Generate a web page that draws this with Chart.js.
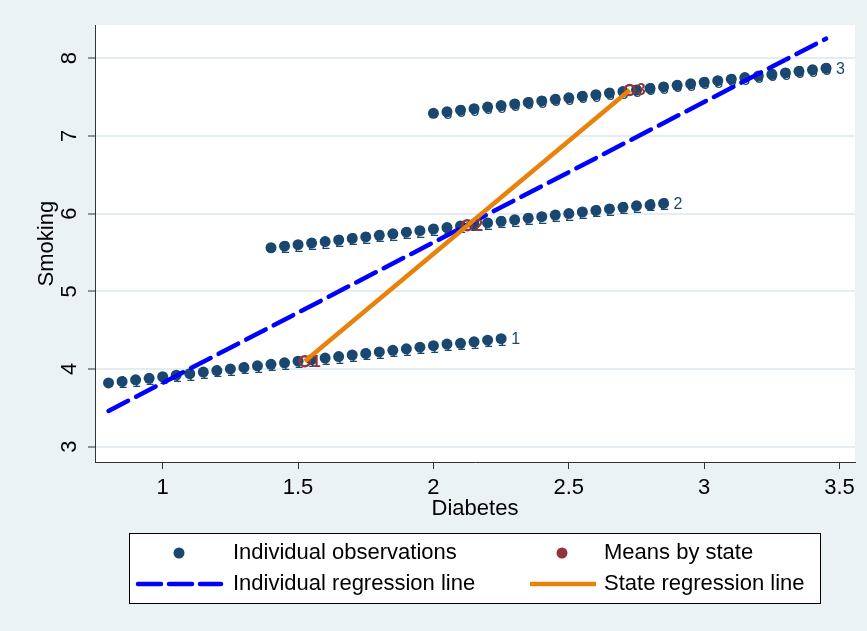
<!DOCTYPE html>
<html>
<head>
<meta charset="utf-8">
<script src="https://cdn.jsdelivr.net/npm/chart.js@4.4.1/dist/chart.umd.min.js"></script>
<style>
  html, body { margin: 0; padding: 0; background: #eaf2f3; }
  #wrap { width: 867px; height: 631px; }
</style>
</head>
<body>
<div id="wrap"><canvas id="myChart" width="867" height="631"></canvas></div>
<script>
// individual observations, one list per state
var state1X = [0.80, 0.85, 0.90, 0.95, 1.00, 1.05, 1.10, 1.15, 1.20, 1.25, 1.30, 1.35, 1.40, 1.45, 1.50,
  1.55, 1.60, 1.65, 1.70, 1.75, 1.80, 1.85, 1.90, 1.95, 2.00, 2.05, 2.10, 2.15, 2.20, 2.25];
var state1Y = [3.82, 3.84, 3.86, 3.88, 3.90, 3.92, 3.94, 3.96, 3.98, 4.00, 4.02, 4.04, 4.06, 4.08, 4.10,
  4.12, 4.14, 4.16, 4.18, 4.20, 4.22, 4.24, 4.26, 4.28, 4.30, 4.32, 4.33, 4.35, 4.37, 4.39];
var state2X = [1.40, 1.45, 1.50, 1.55, 1.60, 1.65, 1.70, 1.75, 1.80, 1.85, 1.90, 1.95, 2.00, 2.05, 2.10,
  2.15, 2.20, 2.25, 2.30, 2.35, 2.40, 2.45, 2.50, 2.55, 2.60, 2.65, 2.70, 2.75, 2.80, 2.85];
var state2Y = [5.56, 5.58, 5.60, 5.62, 5.64, 5.66, 5.68, 5.70, 5.72, 5.74, 5.76, 5.78, 5.80, 5.82, 5.84,
  5.86, 5.88, 5.90, 5.92, 5.94, 5.96, 5.98, 6.00, 6.02, 6.04, 6.06, 6.08, 6.10, 6.11, 6.13];
var state3X = [2.00, 2.05, 2.10, 2.15, 2.20, 2.25, 2.30, 2.35, 2.40, 2.45, 2.50, 2.55, 2.60, 2.65, 2.70,
  2.75, 2.80, 2.85, 2.90, 2.95, 3.00, 3.05, 3.10, 3.15, 3.20, 3.25, 3.30, 3.35, 3.40, 3.45];
var state3Y = [7.29, 7.31, 7.33, 7.35, 7.37, 7.39, 7.41, 7.43, 7.45, 7.47, 7.49, 7.51, 7.53, 7.55, 7.57,
  7.59, 7.61, 7.63, 7.65, 7.67, 7.69, 7.71, 7.73, 7.75, 7.77, 7.79, 7.81, 7.83, 7.85, 7.87];

// means by state
var stateNames = ["1", "2", "3"];
var meanX = [1.525, 2.125, 2.725];
var meanY = [4.10, 5.85, 7.59];

// regression lines (end points)
var indivLineX = [0.80, 3.45];
var indivLineY = [3.46, 8.25];
var stateLineX = [1.525, 2.725];
var stateLineY = [4.10, 7.59];

var legendLabels = ["Individual observations", "Means by state", "Individual regression line", "State regression line"];

var navy = "#1a476f";
var maroon = "#90353b";
var blue = "#0000ff";
var orange = "#e8820a";
var bgColor = "#eaf2f3";
var fontFam = "'Liberation Sans', Arial, sans-serif";

function toPoints(xs, ys) {
  var pts = [];
  for (var i = 0; i < xs.length; i++) pts.push({ x: xs[i], y: ys[i] });
  return pts;
}

function stateSet(xs, ys, name) {
  return {
    label: "Individual observations",
    data: toPoints(xs, ys),
    stateName: name,
    backgroundColor: navy,
    borderColor: navy,
    borderWidth: 0,
    pointRadius: 5.5,
    order: 3
  };
}

// background, legend box and marker labels
var stataLook = {
  id: "stataLook",
  beforeDraw: function (chart) {
    var ctx = chart.ctx, a = chart.chartArea;
    ctx.save();
    ctx.fillStyle = bgColor;
    ctx.fillRect(0, 0, chart.width, chart.height);
    ctx.fillStyle = "#ffffff";
    ctx.fillRect(a.left, a.top, a.right - a.left, a.bottom - a.top);
    ctx.restore();
  },
  beforeDatasetsDraw: function (chart) {
    // marker labels sit to the right of each point, most get covered by the next one
    var ctx = chart.ctx;
    ctx.save();
    ctx.font = "16px " + fontFam;
    ctx.textAlign = "left";
    ctx.textBaseline = "middle";
    ctx.fillStyle = navy;
    for (var d = 0; d < 3; d++) {
      var meta = chart.getDatasetMeta(d);
      var name = chart.data.datasets[d].stateName;
      meta.data.forEach(function (p) {
        ctx.fillText(name, p.x + 10, p.y + 1);
      });
    }
    ctx.restore();
  },
  afterDatasetsDraw: function (chart) {
    var ctx = chart.ctx;
    ctx.save();
    ctx.font = "bold 16px " + fontFam;
    ctx.textAlign = "left";
    ctx.textBaseline = "middle";
    ctx.fillStyle = maroon;
    var meta = chart.getDatasetMeta(3);
    meta.data.forEach(function (p, i) {
      ctx.fillText(stateNames[i], p.x + 7, p.y + 1);
    });
    ctx.restore();
  },
  afterDraw: function (chart) {
    var ctx = chart.ctx;
    ctx.save();
    ctx.fillStyle = "#ffffff";
    ctx.fillRect(129, 533, 691, 70);
    ctx.strokeStyle = "#000000";
    ctx.lineWidth = 1;
    ctx.strokeRect(129.5, 533.5, 691, 70);

    ctx.fillStyle = navy;
    ctx.beginPath();
    ctx.arc(179, 553, 5.5, 0, Math.PI * 2);
    ctx.fill();
    ctx.fillStyle = maroon;
    ctx.beginPath();
    ctx.arc(562, 553, 5.5, 0, Math.PI * 2);
    ctx.fill();

    ctx.lineCap = "round";
    ctx.lineWidth = 4.5;
    ctx.strokeStyle = blue;
    ctx.setLineDash([23, 8]);
    ctx.beginPath();
    ctx.moveTo(138, 584);
    ctx.lineTo(221, 584);
    ctx.stroke();
    ctx.setLineDash([]);
    ctx.lineCap = "butt";
    ctx.strokeStyle = orange;
    ctx.beginPath();
    ctx.moveTo(530, 584);
    ctx.lineTo(596, 584);
    ctx.stroke();

    ctx.fillStyle = "#000000";
    ctx.font = "22px " + fontFam;
    ctx.textAlign = "left";
    ctx.textBaseline = "middle";
    ctx.fillText(legendLabels[0], 233, 553);
    ctx.fillText(legendLabels[1], 604, 553);
    ctx.fillText(legendLabels[2], 233, 584);
    ctx.fillText(legendLabels[3], 604, 584);
    ctx.restore();
  }
};

var config = {
  type: "scatter",
  data: {
    datasets: [
      stateSet(state1X, state1Y, "1"),
      stateSet(state2X, state2Y, "2"),
      stateSet(state3X, state3Y, "3"),
      {
        label: "Means by state",
        data: toPoints(meanX, meanY),
        backgroundColor: "rgba(0,0,0,0)",
        borderColor: maroon,
        borderWidth: 2.5,
        pointRadius: 5,
        order: 2
      },
      {
        type: "line",
        label: "Individual regression line",
        data: toPoints(indivLineX, indivLineY),
        borderColor: blue,
        borderWidth: 4.5,
        borderDash: [22, 9],
        borderCapStyle: "round",
        pointRadius: 0,
        fill: false,
        order: 1
      },
      {
        type: "line",
        label: "State regression line",
        data: toPoints(stateLineX, stateLineY),
        borderColor: orange,
        borderWidth: 4.5,
        pointRadius: 0,
        fill: false,
        order: 0
      }
    ]
  },
  options: {
    responsive: false,
    animation: false,
    layout: { padding: { left: 0, right: 12, top: 25, bottom: 109 } },
    plugins: {
      legend: { display: false },
      tooltip: { enabled: false }
    },
    scales: {
      x: {
        type: "linear",
        min: 0.75,
        max: 3.557,
        afterFit: function (s) { s.height = 60; },
        ticks: {
          stepSize: 0.5,
          includeBounds: false,
          color: "#000",
          padding: 6,
          font: { family: fontFam, size: 22 },
          callback: function (v) { return String(Math.round(v * 10) / 10); }
        },
        grid: { drawOnChartArea: false, tickLength: 7, tickColor: "#333", tickWidth: 1 },
        border: { color: "#333", width: 1 },
        title: {
          display: true,
          text: "Diabetes",
          color: "#000",
          padding: { top: 0, bottom: 0 },
          font: { family: fontFam, size: 22 }
        }
      },
      y: {
        type: "linear",
        min: 2.803,
        max: 8.424,
        afterFit: function (s) { s.width = 95; },
        ticks: {
          stepSize: 1,
          includeBounds: false,
          minRotation: 90,
          maxRotation: 90,
          crossAlign: "center",
          color: "#000",
          padding: 12,
          font: { family: fontFam, size: 22 }
        },
        grid: { color: "#e4edf0", lineWidth: 2, tickLength: 7, tickColor: "#333", tickWidth: 1 },
        border: { color: "#333", width: 1 },
        title: {
          display: true,
          text: "Smoking",
          color: "#000",
          padding: { top: 34, bottom: 0 },
          font: { family: fontFam, size: 22 }
        }
      }
    }
  },
  plugins: [stataLook]
};

var myChart = new Chart(document.getElementById("myChart"), config);
</script>
</body>
</html>
